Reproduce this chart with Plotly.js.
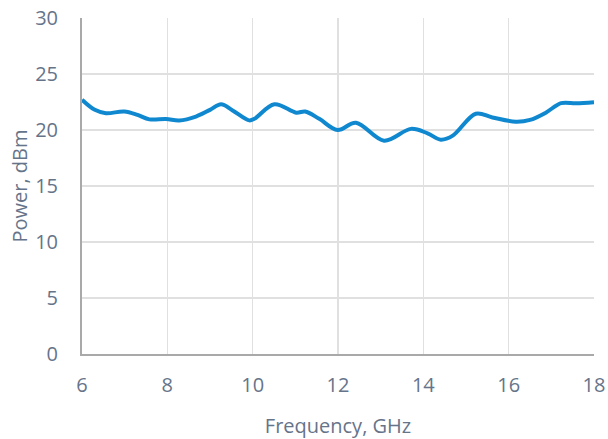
<!DOCTYPE html>
<html>
<head>
<meta charset="utf-8">
<script src="https://cdn.plot.ly/plotly-3.0.1.min.js"></script>
<style>html,body{margin:0;padding:0;background:#fff;}#chart{width:608px;height:439px;}</style>
</head>
<body>
<div id="chart"></div>
<script>
const frequencyGHz = [6.0, 6.3, 6.56, 6.99, 7.3, 7.58, 7.97, 8.28, 8.67, 9.0, 9.26, 9.53, 9.92, 10.04, 10.51, 11.02, 11.23, 11.56, 11.99, 12.42, 13.08, 13.71, 14.1, 14.41, 14.69, 15.23, 15.62, 16.17, 16.5, 16.87, 17.23, 17.58, 18.0];
const powerDbm = [22.7, 21.8, 21.5, 21.65, 21.35, 20.95, 20.98, 20.85, 21.2, 21.8, 22.3, 21.75, 20.86, 21.0, 22.3, 21.55, 21.65, 21.0, 20.0, 20.65, 19.05, 20.1, 19.7, 19.14, 19.5, 21.45, 21.12, 20.74, 20.9, 21.55, 22.4, 22.38, 22.47];
const xTicks = [6, 8, 10, 12, 14, 16, 18];
const yTicks = [0, 5, 10, 15, 20, 25, 30];

const fontColor = '#66748a';
Plotly.newPlot('chart', [{
  x: frequencyGHz,
  y: powerDbm,
  type: 'scatter',
  mode: 'lines',
  line: {color: '#0f88d0', width: 4, shape: 'spline', smoothing: 1},
  hoverinfo: 'skip'
}], {
  width: 608, height: 439,
  margin: {l: 82, r: 14, t: 18, b: 85},
  paper_bgcolor: '#fff', plot_bgcolor: '#fff',
  font: {family: '"Open Sans", sans-serif', size: 20, color: fontColor},
  showlegend: false,
  xaxis: {
    range: [6, 18], tickvals: xTicks, ticktext: xTicks.map(String),
    showgrid: true, gridcolor: '#e0e0e0', gridwidth: 1.5,
    showline: true, linecolor: '#a9a9a9', linewidth: 2,
    zeroline: false, ticks: '', ticklabelstandoff: 12,
    title: {text: 'Frequency, GHz', font: {size: 20, color: fontColor}, standoff: 22}
  },
  yaxis: {
    range: [0, 30], tickvals: yTicks, ticktext: yTicks.map(String),
    showgrid: true, gridcolor: '#e0e0e0', gridwidth: 1.5,
    showline: true, linecolor: '#a9a9a9', linewidth: 2,
    zeroline: false, ticks: '', ticklabelstandoff: 18,
    title: {text: 'Power, dBm', font: {size: 20, color: fontColor}, standoff: 2}
  }
}, {displayModeBar: false, staticPlot: true});
</script>
</body>
</html>
